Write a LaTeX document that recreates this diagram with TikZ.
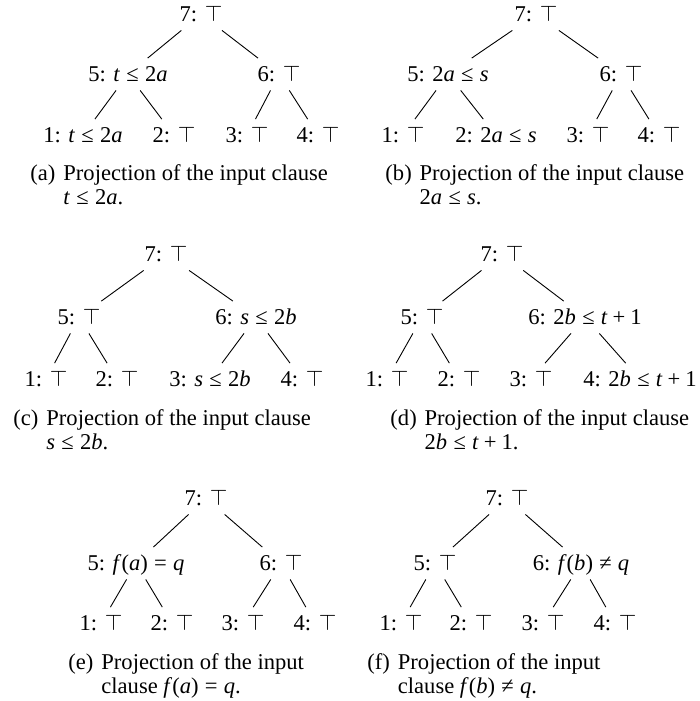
\documentclass[tikz,border=0pt]{standalone}
\usepackage{fontspec}
\setmainfont{Liberation Serif}

\newcommand{\vr}[1]{\textit{#1}}
\newcommand{\rel}[1]{\kern.2777em#1\kern.2777em}
\newcommand{\bop}[1]{\kern.2222em#1\kern.2222em}
\newcommand{\tp}{$\top$}
\newcommand{\subcaptext}[2]{%
  \begin{tabular}[t]{@{}l@{\hspace{3.5pt}}l@{}}#1 & #2\end{tabular}}

\tikzset{
  lit/.style={
    anchor=base,
    inner sep=2.6pt,
    text height=1.6ex,
    text depth=.3ex
  },
  edge/.style={line width=0.4pt, draw=black},
  subcap/.style={anchor=base west, inner sep=0pt}
}

\begin{document}
\begin{tikzpicture}[x=0.443pt, y=-0.443pt]
\useasboundingbox (0,0) rectangle (699,701);

% (a)
\node[lit] (a7) at (201,21) {7: \tp};
\node[lit] (a5) at (128,81) {5: \vr{t}\rel{≤}2\vr{a}};
\node[lit] (a6) at (279,81) {6: \tp};
\node[lit] (a1) at (83,142) {1: \vr{t}\rel{≤}2\vr{a}};
\node[lit] (a2) at (174,142) {2: \tp};
\node[lit] (a3) at (247,142) {3: \tp};
\node[lit] (a4) at (318,142) {4: \tp};
\node[subcap] (capa) at (30,180) {\subcaptext{(a)}{Projection of the input clause\\[-1.2pt]
  & \vr{t}\rel{≤}2\vr{a}.}};

% (b)
\node[lit] (b7) at (536,21) {7: \tp};
\node[lit] (b5) at (448,81) {5: 2\vr{a}\rel{≤}\vr{s}};
\node[lit] (b6) at (621,81) {6: \tp};
\node[lit] (b1) at (403,142) {1: \tp};
\node[lit] (b2) at (496,142) {2: 2\vr{a}\rel{≤}\vr{s}};
\node[lit] (b3) at (588,142) {3: \tp};
\node[lit] (b4) at (659,142) {4: \tp};
\node[subcap] (capb) at (385,180) {\subcaptext{(b)}{Projection of the input clause\\[-1.2pt]
  & 2\vr{a}\rel{≤}\vr{s}.}};

% (c)
\node[lit] (c7) at (166,261) {7: \tp};
\node[lit] (c5) at (79,324) {5: \tp};
\node[lit] (c6) at (256,324) {6: \vr{s}\rel{≤}2\vr{b}};
\node[lit] (c1) at (46,386) {1: \tp};
\node[lit] (c2) at (117,386) {2: \tp};
\node[lit] (c3) at (210,386) {3: \vr{s}\rel{≤}2\vr{b}};
\node[lit] (c4) at (302,386) {4: \tp};
\node[subcap] (capc) at (13,425) {\subcaptext{(c)}{Projection of the input clause\\[-1.2pt]
  & \vr{s}\rel{≤}2\vr{b}.}};

% (d)
\node[lit] (d7) at (502,261) {7: \tp};
\node[lit] (d5) at (422,324) {5: \tp};
\node[lit] (d6) at (585,324) {6: 2\vr{b}\rel{≤}\vr{t}\bop{+}1};
\node[lit] (d1) at (387,386) {1: \tp};
\node[lit] (d2) at (459,386) {2: \tp};
\node[lit] (d3) at (531,386) {3: \tp};
\node[lit] (d4) at (640,386) {4: 2\vr{b}\rel{≤}\vr{t}\bop{+}1};
\node[subcap] (capd) at (390,425) {\subcaptext{(d)}{Projection of the input clause\\[-1.2pt]
  & 2\vr{b}\rel{≤}\vr{t}\bop{+}1.}};

% (e)
\node[lit] (e7) at (206,505) {7: \tp};
\node[lit] (e5) at (136,570) {5: \vr{f}(\vr{a})\rel{=}\vr{q}};
\node[lit] (e6) at (281,570) {6: \tp};
\node[lit] (e1) at (101,630) {1: \tp};
\node[lit] (e2) at (172,630) {2: \tp};
\node[lit] (e3) at (243,630) {3: \tp};
\node[lit] (e4) at (315,630) {4: \tp};
\node[subcap] (cape) at (68,669) {\subcaptext{(e)}{Projection of the input\\[-1.2pt]
  & clause \vr{f}(\vr{a})\rel{=}\vr{q}.}};

% (f)
\node[lit] (f7) at (507,505) {7: \tp};
\node[lit] (f5) at (435,570) {5: \tp};
\node[lit] (f6) at (581,570) {6: \vr{f}(\vr{b})\rel{≠}\vr{q}};
\node[lit] (f1) at (401,630) {1: \tp};
\node[lit] (f2) at (471,630) {2: \tp};
\node[lit] (f3) at (543,630) {3: \tp};
\node[lit] (f4) at (615,630) {4: \tp};
\node[subcap] (capf) at (367,669) {\subcaptext{(f)}{Projection of the input\\[-1.2pt]
  & clause \vr{f}(\vr{b})\rel{≠}\vr{q}.}};

% edges
\draw[edge] (a7) -- (a5);
\draw[edge] (a7) -- (a6);
\draw[edge] (a5) -- (a1);
\draw[edge] (a5) -- (a2);
\draw[edge] (a6) -- (a3);
\draw[edge] (a6) -- (a4);

\draw[edge] (b7) -- (b5);
\draw[edge] (b7) -- (b6);
\draw[edge] (b5) -- (b1);
\draw[edge] (b5) -- (b2);
\draw[edge] (b6) -- (b3);
\draw[edge] (b6) -- (b4);

\draw[edge] (c7) -- (c5);
\draw[edge] (c7) -- (c6);
\draw[edge] (c5) -- (c1);
\draw[edge] (c5) -- (c2);
\draw[edge] (c6) -- (c3);
\draw[edge] (c6) -- (c4);

\draw[edge] (d7) -- (d5);
\draw[edge] (d7) -- (d6);
\draw[edge] (d5) -- (d1);
\draw[edge] (d5) -- (d2);
\draw[edge] (d6) -- (d3);
\draw[edge] (d6) -- (d4);

\draw[edge] (e7) -- (e5);
\draw[edge] (e7) -- (e6);
\draw[edge] (e5) -- (e1);
\draw[edge] (e5) -- (e2);
\draw[edge] (e6) -- (e3);
\draw[edge] (e6) -- (e4);

\draw[edge] (f7) -- (f5);
\draw[edge] (f7) -- (f6);
\draw[edge] (f5) -- (f1);
\draw[edge] (f5) -- (f2);
\draw[edge] (f6) -- (f3);
\draw[edge] (f6) -- (f4);

\end{tikzpicture}
\end{document}
